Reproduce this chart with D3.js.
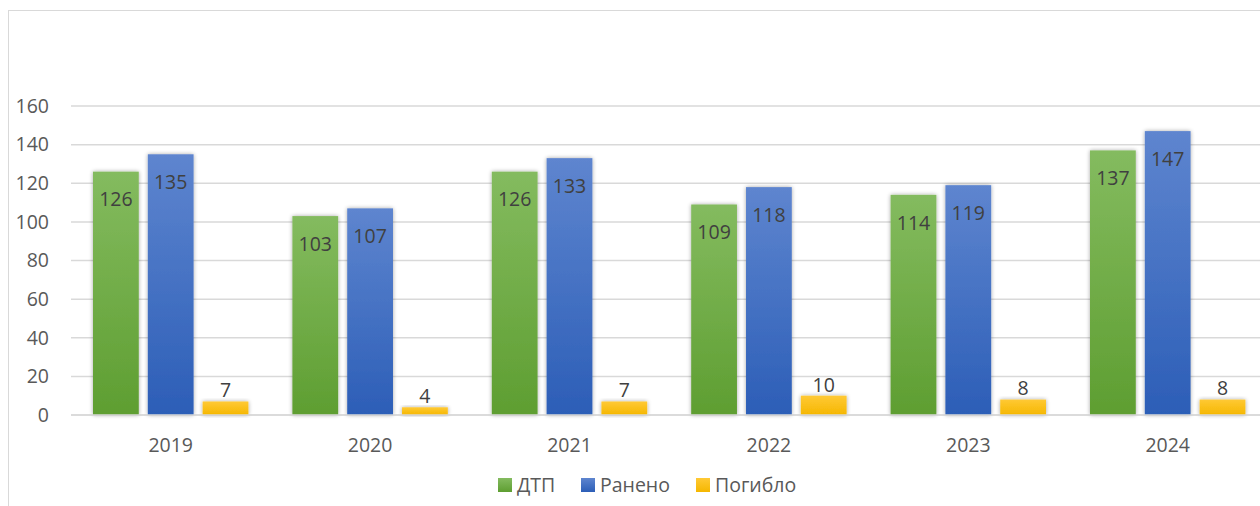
<!DOCTYPE html>
<html><head><meta charset="utf-8">
<script src="https://cdn.jsdelivr.net/npm/d3@7"></script>
<style>body{margin:0;background:#fff}svg{display:block}</style>
</head><body>
<svg id="c" width="1260" height="506"></svg>
<script>
const years = ["2019","2020","2021","2022","2023","2024"];
const seriesNames = ["ДТП","Ранено","Погибло"];
const dtp = [126,103,126,109,114,137];
const raneno = [135,107,133,118,119,147];
const pogiblo = [7,4,7,10,8,8];
const yTicks = [0,20,40,60,80,100,120,140,160];

const series = [dtp, raneno, pogiblo];
const svg = d3.select("#c");
const font = "'Open Sans', sans-serif";
const fs = 19.5;

// chart border
svg.append("rect").attr("x",8.5).attr("y",10.5).attr("width",1300).attr("height",600)
  .attr("fill","none").attr("stroke","#d9d9d9").attr("stroke-width",1);

const defs = svg.append("defs");
const grads = [["#84bb5f","#5e9e31"],["#5e85cf","#2c5eb7"],["#ffc935","#f5b700"]];
grads.forEach((g,i)=>{
  const lg = defs.append("linearGradient").attr("id","g"+i).attr("x1",0).attr("y1",0).attr("x2",0).attr("y2",1);
  lg.append("stop").attr("offset","0%").attr("stop-color",g[0]);
  lg.append("stop").attr("offset","100%").attr("stop-color",g[1]);
});
const f = defs.append("filter").attr("id","sh").attr("x","-20%").attr("y","-20%").attr("width","140%").attr("height","140%");
f.append("feGaussianBlur").attr("in","SourceAlpha").attr("stdDeviation",2);
f.append("feOffset").attr("dx",0).attr("dy",0).attr("result","b");
f.append("feComponentTransfer").append("feFuncA").attr("type","linear").attr("slope",0.35);
const m = f.append("feMerge"); m.append("feMergeNode"); m.append("feMergeNode").attr("in","SourceGraphic");

const x0 = 71, x1 = 71 + 6*199.4;
const x = d3.scaleBand().domain(years).range([x0,x1]).paddingInner(0).paddingOuter(0);
const y = d3.scaleLinear().domain([0,160]).range([415,106]);

// gridlines
svg.append("g").selectAll("line").data(yTicks).join("line")
  .attr("x1",x0).attr("x2",1260).attr("y1",d=>y(d)).attr("y2",d=>y(d))
  .attr("stroke","#d9d9d9").attr("stroke-width",1.5);

// y labels
svg.append("g").selectAll("text").data(yTicks).join("text")
  .attr("x",49).attr("y",d=>y(d)).attr("dy","0.35em").attr("text-anchor","end")
  .attr("font-family",font).attr("font-size",fs).attr("fill","#595959").text(d=>d);

// x labels
svg.append("g").selectAll("text").data(years).join("text")
  .attr("x",d=>x(d)+x.bandwidth()/2).attr("y",445).attr("dy","0.35em").attr("text-anchor","middle")
  .attr("font-family",font).attr("font-size",fs).attr("fill","#595959").text(d=>d);

const xs = d3.scaleBand().domain([0,1,2]).range([22, x.bandwidth()-22]).paddingInner(0.165);

series.forEach((vals,si)=>{
  const g = svg.append("g");
  g.selectAll("rect").data(vals).join("rect")
    .attr("x",(d,i)=>x(years[i])+xs(si)).attr("width",xs.bandwidth())
    .attr("y",d=>y(d)).attr("height",d=>y(0)-y(d))
    .attr("fill","url(#g"+si+")").attr("filter","url(#sh)");
  g.selectAll("text").data(vals).join("text")
    .attr("x",(d,i)=>x(years[i])+xs(si)+xs.bandwidth()/2)
    .attr("y",d=> si<2 ? y(d)+28 : y(d)-11)
    .attr("dy","0.35em").attr("text-anchor","middle")
    .attr("font-family",font).attr("font-size",fs).attr("fill","#404040").text(d=>d);
});

// axis line
svg.append("line").attr("x1",x0).attr("x2",1260).attr("y1",y(0)).attr("y2",y(0))
  .attr("stroke","#d9d9d9").attr("stroke-width",1.5);

// legend
const legX = [498,581,696];
const lg = svg.append("g");
seriesNames.forEach((n,i)=>{
  lg.append("rect").attr("x",legX[i]).attr("y",478).attr("width",14).attr("height",14).attr("fill","url(#g"+i+")");
  lg.append("text").attr("x",legX[i]+19).attr("y",485).attr("dy","0.35em")
    .attr("font-family",font).attr("font-size",fs).attr("fill","#595959").text(n);
});
</script>
</body></html>
